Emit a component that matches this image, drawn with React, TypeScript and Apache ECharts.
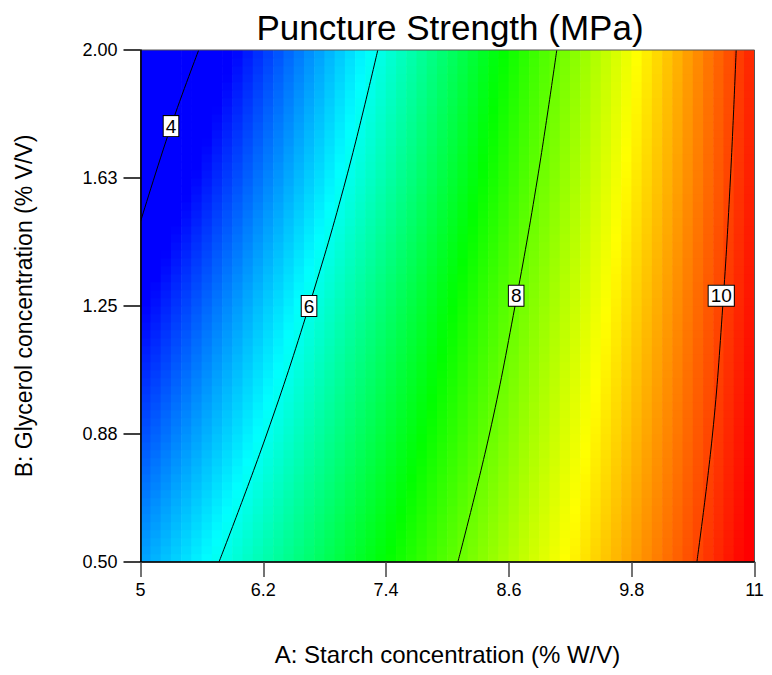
import React, { useEffect, useRef } from "react";
import * as echarts from "echarts";

// ---- Data ----
const TITLE = "Puncture Strength (MPa)";
const X_NAME = "A: Starch concentration (% W/V)";
const Y_NAME = "B: Glycerol concentration (% V/V)";

// Tick positions
const X_TICKS = [5, 6.2, 7.4, 8.6, 9.8, 11];
const Y_TICKS = [0.5, 0.875, 1.25, 1.625, 2.0];

// Grid nodes of the response surface (values read along rows)
const A_NODES = [5, 5.5, 6, 6.5, 7, 7.5, 8, 8.5, 9, 9.5, 10, 10.5, 11];
const B_NODES = [0.5, 0.875, 1.25, 1.625, 2.0];
const STRENGTH_B050 = [5.34, 5.77, 6.2, 6.62, 7.05, 7.48, 7.91, 8.34, 8.77, 9.2, 9.62, 10.05, 10.48];
const STRENGTH_B088 = [4.84, 5.3, 5.76, 6.23, 6.69, 7.15, 7.61, 8.08, 8.54, 9.01, 9.47, 9.93, 10.4];
const STRENGTH_B125 = [4.36, 4.86, 5.36, 5.86, 6.36, 6.85, 7.35, 7.85, 8.34, 8.84, 9.33, 9.83, 10.32];
const STRENGTH_B163 = [3.86, 4.38, 4.91, 5.44, 5.97, 6.5, 7.04, 7.58, 8.12, 8.66, 9.19, 9.72, 10.26];
const STRENGTH_B200 = [3.35, 3.92, 4.49, 5.06, 5.64, 6.21, 6.78, 7.35, 7.92, 8.49, 9.06, 9.64, 10.21];

// Contour lines [A, B]
const CONTOUR_4 = [[5.569, 2.0], [5.298, 1.777], [5.0, 1.497]];
const CONTOUR_6 = [[7.319, 2.0], [7.011, 1.625], [6.647, 1.25], [6.234, 0.875], [5.767, 0.5]];
const CONTOUR_8 = [[9.068, 2.0], [8.88, 1.625], [8.66, 1.25], [8.41, 0.875], [8.101, 0.5]];
const CONTOUR_10 = [[10.821, 2.0], [10.765, 1.625], [10.69, 1.25], [10.59, 0.875], [10.437, 0.5]];

const CONTOUR_LABELS = ["4", "6", "8", "10"];
const CONTOUR_LABEL_POS = [[5.298, 1.777], [6.647, 1.25], [8.671, 1.28], [10.675, 1.28]];

// ---- Styling ----
const FONT = "'Liberation Sans', Arial, sans-serif";
const COLOR_STOPS: [number, number[]][] = [
  [4.4, [0, 0, 255]],
  [5.9, [0, 255, 255]],
  [7.4, [0, 255, 0]],
  [8.9, [255, 255, 0]],
  [10.4, [255, 0, 0]],
];

function colorOf(v: number): string {
  if (v <= COLOR_STOPS[0][0]) {
    const c = COLOR_STOPS[0][1];
    return `rgb(${c[0]},${c[1]},${c[2]})`;
  }
  for (let k = 0; k < COLOR_STOPS.length - 1; k++) {
    const [v0, c0] = COLOR_STOPS[k];
    const [v1, c1] = COLOR_STOPS[k + 1];
    if (v <= v1) {
      const t = (v - v0) / (v1 - v0);
      const r = Math.round(c0[0] + (c1[0] - c0[0]) * t);
      const g = Math.round(c0[1] + (c1[1] - c0[1]) * t);
      const b = Math.round(c0[2] + (c1[2] - c0[2]) * t);
      return `rgb(${r},${g},${b})`;
    }
  }
  const c = COLOR_STOPS[COLOR_STOPS.length - 1][1];
  return `rgb(${c[0]},${c[1]},${c[2]})`;
}

export default function App() {
  const ref = useRef<HTMLDivElement>(null);

  useEffect(() => {
    if (!ref.current) return;
    const chart = echarts.init(ref.current, undefined, { renderer: "svg" });

    const rows = [STRENGTH_B050, STRENGTH_B088, STRENGTH_B125, STRENGTH_B163, STRENGTH_B200];

    const patches: number[][] = [];
    for (let j = 0; j < B_NODES.length - 1; j++) {
      for (let i = 0; i < A_NODES.length - 1; i++) {
        patches.push([A_NODES[i], B_NODES[j], i, j]);
      }
    }

    const NX = 5;
    const NY = 16;
    const renderItem = (params: any, api: any) => {
      const i = api.value(2);
      const j = api.value(3);
      const a0 = A_NODES[i], a1 = A_NODES[i + 1];
      const b0 = B_NODES[j], b1 = B_NODES[j + 1];
      const v00 = rows[j][i], v10 = rows[j][i + 1];
      const v01 = rows[j + 1][i], v11 = rows[j + 1][i + 1];
      const children: any[] = [];
      for (let sx = 0; sx < NX; sx++) {
        for (let sy = 0; sy < NY; sy++) {
          const u = (sx + 0.5) / NX;
          const w = (sy + 0.5) / NY;
          const v =
            v00 * (1 - u) * (1 - w) + v10 * u * (1 - w) + v01 * (1 - u) * w + v11 * u * w;
          const p0 = api.coord([a0 + ((a1 - a0) * sx) / NX, b0 + ((b1 - b0) * sy) / NY]);
          const p1 = api.coord([a0 + ((a1 - a0) * (sx + 1)) / NX, b0 + ((b1 - b0) * (sy + 1)) / NY]);
          children.push({
            type: "rect",
            shape: {
              x: Math.min(p0[0], p1[0]) - 0.3,
              y: Math.min(p0[1], p1[1]) - 0.3,
              width: Math.abs(p1[0] - p0[0]) + 0.6,
              height: Math.abs(p1[1] - p0[1]) + 0.6,
            },
            style: { fill: colorOf(v) },
          });
        }
      }
      return { type: "group", children };
    };

    const contourSeries = [CONTOUR_4, CONTOUR_6, CONTOUR_8, CONTOUR_10].map((pts) => ({
      type: "line",
      data: pts,
      showSymbol: false,
      symbol: "none",
      smooth: 0.4,
      lineStyle: { color: "#000", width: 1 },
      z: 5,
      silent: true,
    }));

    const option: any = {
      animation: false,
      backgroundColor: "#fff",
      title: {
        text: TITLE,
        left: 445,
        top: 5,
        textAlign: "center",
        textStyle: { fontSize: 35, fontWeight: "normal", color: "#000", fontFamily: FONT },
      },
      grid: {
        left: 140.5,
        top: 50,
        width: 614,
        height: 512,
        show: true,
        borderColor: "#555",
        borderWidth: 1,
        backgroundColor: "transparent",
        z: 10,
      },
      xAxis: {
        type: "value",
        min: X_TICKS[0],
        max: X_TICKS[X_TICKS.length - 1],
        interval: 1.2,
        name: X_NAME,
        nameLocation: "middle",
        nameGap: 80,
        nameTextStyle: { fontSize: 24, color: "#000", fontFamily: FONT },
        axisLine: { show: true, onZero: false, lineStyle: { color: "#000", width: 1.5 } },
        axisTick: { show: true, length: 15, lineStyle: { color: "#444", width: 1.5 } },
        axisLabel: {
          margin: 19,
          fontSize: 18,
          color: "#000",
          fontFamily: FONT,
          formatter: (v: number) => String(+v.toFixed(1)),
        },
        splitLine: { show: false },
        z: 12,
      },
      yAxis: {
        type: "value",
        min: Y_TICKS[0],
        max: Y_TICKS[Y_TICKS.length - 1],
        interval: 0.375,
        name: Y_NAME,
        nameLocation: "middle",
        nameGap: 105,
        nameTextStyle: { fontSize: 23, color: "#000", fontFamily: FONT },
        axisLine: { show: true, onZero: false, lineStyle: { color: "#000", width: 1.5 } },
        axisTick: { show: true, length: 17, lineStyle: { color: "#000", width: 1.5 } },
        axisLabel: {
          margin: 23,
          fontSize: 18,
          color: "#000",
          fontFamily: FONT,
          formatter: (v: number) => v.toFixed(2),
        },
        splitLine: { show: false },
        z: 12,
      },
      series: [
        {
          type: "custom",
          renderItem,
          data: patches,
          encode: { x: 0, y: 1 },
          clip: true,
          silent: true,
          z: 1,
        },
        ...contourSeries,
        {
          type: "scatter",
          data: CONTOUR_LABEL_POS.map((p, k) => ({ value: p, name: CONTOUR_LABELS[k] })),
          symbolSize: 0,
          z: 8,
          silent: true,
          itemStyle: { opacity: 1 },
          label: {
            show: true,
            position: "inside",
            formatter: "{b}",
            fontSize: 19,
            color: "#000",
            opacity: 1,
            fontFamily: FONT,
            backgroundColor: "#ffffff",
            borderColor: "#000",
            borderWidth: 1,
            padding: [1, 2, 0, 2],
          },
        },
      ],
    };

    chart.setOption(option);
    return () => chart.dispose();
  }, []);

  return (
    <div
      ref={ref}
      style={{ position: "absolute", left: 0, top: 0, width: 772, height: 675, background: "#fff" }}
    />
  );
}
